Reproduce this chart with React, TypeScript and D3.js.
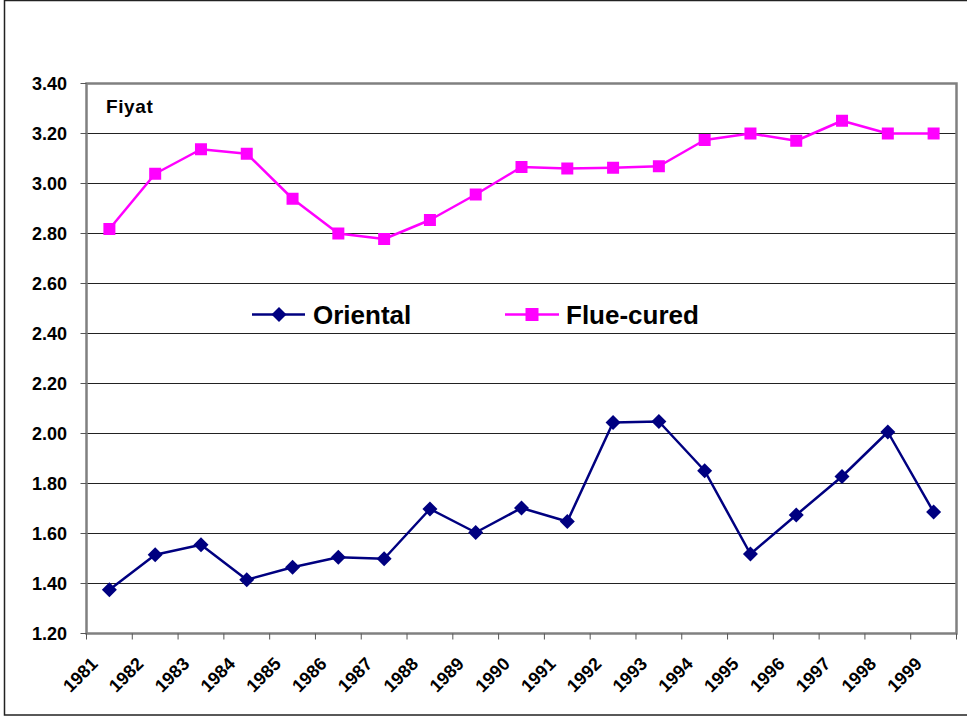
import React from "react";
import * as d3 from "d3";

const years = [
  "1981", "1982", "1983", "1984", "1985", "1986", "1987", "1988", "1989", "1990",
  "1991", "1992", "1993", "1994", "1995", "1996", "1997", "1998", "1999",
];
const oriental = [
  1.375, 1.515, 1.555, 1.415, 1.465, 1.505, 1.499, 1.698, 1.604, 1.702,
  1.648, 2.044, 2.048, 1.851, 1.518, 1.674, 1.828, 2.006, 1.686,
];
const flueCured = [
  2.818, 3.039, 3.137, 3.119, 2.939, 2.8, 2.778, 2.854, 2.956, 3.066,
  3.06, 3.063, 3.069, 3.174, 3.2, 3.171, 3.251, 3.2, 3.2,
];
const yTicks = [1.2, 1.4, 1.6, 1.8, 2.0, 2.2, 2.4, 2.6, 2.8, 3.0, 3.2, 3.4];
const seriesNames = ["Oriental", "Flue-cured"];
const seriesColors = ["#000080", "#FF00FF"];
const axisTitle = "Fiyat";

const W = 967;
const H = 720;
const FONT = "'Liberation Sans', Arial, Helvetica, sans-serif";

export default function App() {
  const x = d3.scaleBand<string>().domain(years).range([86.5, 956.5]).padding(0);
  const y = d3.scaleLinear().domain([1.2, 3.4]).range([633.5, 83.5]);
  const cx = (yr: string) => (x(yr) as number) + x.bandwidth() / 2;
  const line = d3
    .line<number>()
    .x((_, i) => cx(years[i]))
    .y((d) => y(d));

  const left = x.range()[0];
  const right = x.range()[1];
  const top = y(3.4);
  const bottom = y(1.2);

  const diamond = (px: number, py: number, r: number) =>
    `M${px},${py - r}L${px + r},${py}L${px},${py + r}L${px - r},${py}Z`;

  return (
    <svg
      width={W}
      height={H}
      style={{ position: "absolute", left: 0, top: 0, background: "#fff" }}
      fontFamily={FONT}
    >
      <rect x={0} y={0} width={W} height={H} fill="#fff" />
      {/* outer chart frame */}
      <rect x={4.5} y={0.5} width={1000} height={714.5} fill="none" stroke="#222" strokeWidth={1.5} />

      {/* gridlines */}
      {yTicks
        .filter((t) => t > 1.2 + 1e-9 && t < 3.4 - 1e-9)
        .map((t) => (
          <line key={"g" + t} x1={left} x2={right} y1={y(t)} y2={y(t)} stroke="#222" strokeWidth={1} />
        ))}

      {/* plot border */}
      <rect x={left} y={top} width={right - left} height={bottom - top} fill="none" stroke="#808080" strokeWidth={2.5} />

      {/* y ticks + labels */}
      {yTicks.map((t) => (
        <g key={"y" + t}>
          <line x1={left - 6} x2={left} y1={y(t)} y2={y(t)} stroke="#555" strokeWidth={1} />
          <text
            x={67}
            y={y(t)}
            dy="0.35em"
            textAnchor="end"
            fontSize={18}
            fontWeight="bold"
            fill="#000"
          >
            {t.toFixed(2)}
          </text>
        </g>
      ))}

      {/* x ticks */}
      {years.concat(["__end"]).map((yr, i) => {
        const px = i < years.length ? (x(yr) as number) : right;
        return <line key={"xt" + i} x1={px} x2={px} y1={bottom} y2={bottom + 6} stroke="#555" strokeWidth={1} />;
      })}
      {/* x labels */}
      {years.map((yr) => {
        const px = cx(yr) - 10.5;
        const py = 665;
        return (
          <text
            key={"xl" + yr}
            x={px}
            y={py}
            transform={`rotate(-45 ${px} ${py})`}
            textAnchor="end"
            fontSize={18}
            fontWeight="bold"
            fill="#000"
          >
            {yr}
          </text>
        );
      })}

      {/* axis title */}
      <text x={106} y={113} fontSize={19} fontWeight="bold" fill="#000" letterSpacing={0.6}>
        {axisTitle}
      </text>

      {/* series lines */}
      <path d={line(oriental) || ""} fill="none" stroke={seriesColors[0]} strokeWidth={2.5} strokeLinejoin="round" />
      <path d={line(flueCured) || ""} fill="none" stroke={seriesColors[1]} strokeWidth={2.5} strokeLinejoin="round" />

      {oriental.map((v, i) => (
        <path key={"o" + i} d={diamond(cx(years[i]), y(v), 7.5)} fill={seriesColors[0]} />
      ))}
      {flueCured.map((v, i) => (
        <rect key={"f" + i} x={cx(years[i]) - 6} y={y(v) - 6} width={12} height={12} fill={seriesColors[1]} />
      ))}

      {/* legend */}
      <g>
        <line x1={252} x2={305} y1={314.5} y2={314.5} stroke={seriesColors[0]} strokeWidth={2.5} />
        <path d={diamond(279, 314.5, 7.5)} fill={seriesColors[0]} />
        <text x={313} y={324} fontSize={26} fontWeight="bold" fill="#000">
          {seriesNames[0]}
        </text>
        <line x1={505} x2={559} y1={314.5} y2={314.5} stroke={seriesColors[1]} strokeWidth={2.5} />
        <rect x={532 - 6.5} y={314.5 - 6.5} width={13} height={13} fill={seriesColors[1]} />
        <text x={566} y={324} fontSize={26} fontWeight="bold" fill="#000">
          {seriesNames[1]}
        </text>
      </g>
    </svg>
  );
}
